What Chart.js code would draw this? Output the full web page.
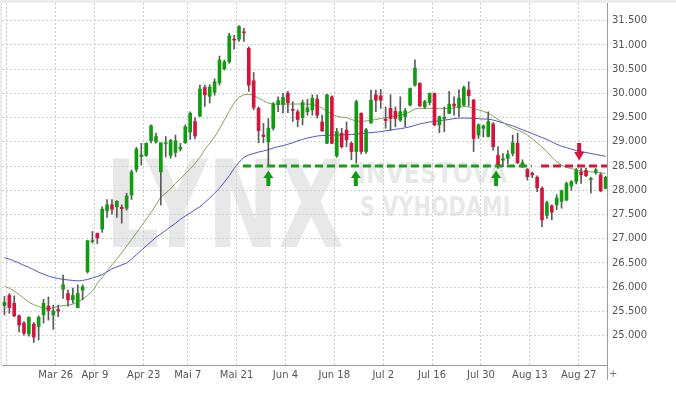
<!DOCTYPE html>
<html><head><meta charset="utf-8">
<script src="https://cdn.jsdelivr.net/npm/chart.js@4/dist/chart.umd.min.js"></script>
<style>html,body{margin:0;padding:0;background:#fff}#wrap{position:relative;width:676px;height:405px}</style>
</head><body><div id="wrap"><canvas id="c" width="676" height="405"></canvas></div>
<script>
// ---- categories (trading days) ----
const days = ['Mar 9','Mar 12','Mar 13','Mar 14','Mar 15','Mar 16','Mar 19','Mar 20','Mar 21','Mar 22','Mar 23','Mar 26','Mar 27','Mar 28','Mar 29',
'Apr 3','Apr 4','Apr 5','Apr 6','Apr 9','Apr 10','Apr 11','Apr 12','Apr 13','Apr 16','Apr 17','Apr 18','Apr 19','Apr 20','Apr 23','Apr 24','Apr 25','Apr 26','Apr 27','Apr 30',
'Mai 2','Mai 3','Mai 4','Mai 7','Mai 8','Mai 9','Mai 10','Mai 11','Mai 14','Mai 15','Mai 16','Mai 17','Mai 18','Mai 21','Mai 22','Mai 23','Mai 24','Mai 25','Mai 28','Mai 29','Mai 30','Mai 31',
'Jun 1','Jun 4','Jun 5','Jun 6','Jun 7','Jun 8','Jun 11','Jun 12','Jun 13','Jun 14','Jun 15','Jun 18','Jun 19','Jun 20','Jun 21','Jun 22','Jun 25','Jun 26','Jun 27','Jun 28','Jun 29',
'Jul 2','Jul 3','Jul 4','Jul 5','Jul 6','Jul 9','Jul 10','Jul 11','Jul 12','Jul 13','Jul 16','Jul 17','Jul 18','Jul 19','Jul 20','Jul 23','Jul 24','Jul 25','Jul 26','Jul 27','Jul 30','Jul 31',
'Aug 1','Aug 2','Aug 3','Aug 6','Aug 7','Aug 8','Aug 9','Aug 10','Aug 13','Aug 14','Aug 15','Aug 16','Aug 17','Aug 20','Aug 21','Aug 22','Aug 23','Aug 24','Aug 27','Aug 28','Aug 29','Aug 30','Aug 31',
'Sep 3'];

// ---- OHLC series ----
const open = [25.62,25.83,25.67,25.41,25.26,25.04,25.24,25.19,25.43,25.61,25.43,25.54,25.96,25.87,25.74,25.58,25.94,26.32,26.94,27.11,
27.20,27.58,27.70,27.66,27.65,27.63,27.90,28.43,28.70,28.72,29.02,29.00,28.38,28.96,28.72,28.78,28.85,28.98,29.20,29.42,
29.53,30.12,29.94,30.02,30.22,30.51,30.65,31.11,31.12,31.27,30.93,30.26,29.69,29.14,29.00,29.28,29.77,29.77,30.00,29.67,
29.62,29.50,29.62,29.66,29.88,29.41,28.97,29.93,28.71,29.18,29.24,28.97,28.80,29.59,28.80,29.39,29.97,29.95,29.47,29.69,
29.63,29.45,29.52,29.76,30.17,30.21,29.72,29.81,30.00,29.35,29.48,29.59,29.78,29.71,29.76,30.07,29.86,29.14,29.28,29.11,
29.37,28.72,28.62,28.66,28.76,28.97,28.51,28.43,28.35,28.27,28.04,27.48,27.68,27.70,27.77,27.80,28.09,28.18,28.38,28.41,
28.22,28.37,28.32,28.04];
const high = [25.81,25.87,25.82,25.43,25.29,25.39,25.27,25.41,25.75,25.80,25.63,25.63,26.25,25.94,25.98,26.05,26.05,26.97,27.15,27.12,
27.66,27.81,27.81,27.79,27.70,27.94,28.42,28.89,28.97,28.98,29.35,29.18,28.98,29.11,29.05,29.14,28.97,29.35,29.62,29.50,
30.17,30.17,30.18,30.30,30.77,30.69,31.24,31.20,31.40,31.34,30.96,30.43,29.72,29.38,29.48,29.81,29.93,30.00,30.04,29.83,
29.66,29.86,29.88,29.97,29.97,29.55,29.98,29.95,29.28,29.28,29.41,29.00,29.86,29.60,29.28,30.07,30.07,30.08,29.72,29.97,
29.72,29.93,29.69,30.11,30.69,30.22,29.86,30.01,30.01,29.53,29.72,30.04,29.93,30.08,30.15,30.24,29.88,29.37,29.35,29.62,
29.40,28.90,28.76,28.82,29.14,29.18,28.63,28.45,28.38,28.30,28.07,27.78,27.70,27.91,28.01,28.17,28.20,28.45,28.46,28.46,
28.27,28.45,28.36,28.29];
const low = [25.43,25.46,25.39,25.08,25.01,24.99,24.86,24.91,25.26,25.32,25.13,25.39,25.77,25.61,25.67,25.57,25.74,26.29,26.91,26.90,
27.13,27.44,27.51,27.44,27.32,27.59,27.81,28.38,28.52,28.70,28.98,28.97,27.70,28.69,28.66,28.69,28.81,28.97,29.05,29.06,
29.52,29.73,29.80,29.96,30.17,30.48,30.62,30.91,31.07,31.07,30.04,29.66,28.98,28.98,28.50,29.24,29.62,29.59,29.60,29.42,
29.31,29.35,29.55,29.55,29.49,29.21,28.96,28.96,28.68,28.87,28.90,28.63,28.56,28.75,28.76,29.38,29.62,29.69,29.28,29.24,
29.31,29.42,29.31,29.74,30.15,29.73,29.69,29.76,29.33,29.19,29.21,29.58,29.55,29.52,29.74,29.74,28.80,29.07,29.10,29.10,
28.83,28.45,28.49,28.55,28.71,28.55,28.47,28.21,28.26,27.97,27.25,27.42,27.39,27.60,27.63,27.78,28.00,28.13,28.14,28.28,
27.94,28.33,27.97,28.03];
const close = [25.69,25.58,25.41,25.22,25.05,25.38,24.97,25.38,25.67,25.52,25.51,25.51,26.05,25.74,25.83,25.87,26.01,26.96,26.96,27.02,
27.61,27.70,27.61,27.77,27.62,27.88,28.38,28.85,28.73,28.97,29.33,29.11,28.98,28.98,29.03,29.02,28.89,29.31,29.59,29.12,
30.09,29.97,30.13,30.24,30.69,30.65,31.19,31.10,31.38,31.25,30.17,29.71,29.23,29.11,29.28,29.78,29.85,29.92,29.81,29.65,
29.46,29.81,29.70,29.90,29.55,29.23,29.97,28.97,29.21,28.90,29.04,28.80,29.83,28.80,29.25,29.86,29.86,29.86,29.44,29.48,
29.48,29.62,29.64,30.10,30.52,29.74,29.83,30.00,29.35,29.52,29.51,29.78,29.74,29.90,30.12,29.95,29.07,29.35,29.33,29.42,
28.90,28.52,28.65,28.74,28.98,28.57,28.57,28.28,28.32,28.05,27.39,27.74,27.55,27.84,27.99,28.14,28.18,28.42,28.32,28.30,
28.24,28.42,27.99,28.27];

// ---- moving averages ----
const maFast = [26.02,25.98,25.92,25.85,25.77,25.69,25.64,25.60,25.57,25.55,25.58,25.61,25.62,25.63,25.65,25.70,25.75,25.83,25.92,26.08,
26.20,26.34,26.46,26.58,26.71,26.85,26.98,27.12,27.26,27.40,27.54,27.70,27.86,27.94,28.03,28.14,28.24,28.34,28.44,28.55,
28.68,28.84,28.97,29.10,29.27,29.45,29.63,29.80,29.92,29.97,29.98,29.96,29.90,29.85,29.80,29.78,29.78,29.78,29.78,29.78,
29.78,29.78,29.78,29.77,29.74,29.70,29.63,29.57,29.53,29.51,29.50,29.46,29.43,29.42,29.43,29.45,29.46,29.48,29.50,29.51,
29.53,29.55,29.57,29.62,29.68,29.69,29.69,29.69,29.69,29.69,29.69,29.69,29.70,29.71,29.73,29.72,29.69,29.66,29.63,29.59,
29.53,29.46,29.40,29.33,29.28,29.24,29.20,29.14,29.06,28.98,28.89,28.80,28.68,28.59,28.52,28.47,28.45,28.42,28.40,28.39,
28.38,28.37,28.36,28.35];
const maSlow = [26.61,26.58,26.54,26.50,26.45,26.41,26.36,26.31,26.27,26.23,26.20,26.18,26.16,26.15,26.14,26.13,26.14,26.16,26.19,26.22,
26.26,26.32,26.38,26.42,26.46,26.50,26.58,26.67,26.76,26.85,26.94,27.03,27.10,27.17,27.25,27.32,27.40,27.47,27.53,27.60,
27.66,27.75,27.84,27.94,28.04,28.17,28.30,28.45,28.58,28.68,28.73,28.76,28.79,28.81,28.84,28.87,28.90,28.92,28.95,28.98,
29.02,29.05,29.08,29.10,29.12,29.13,29.13,29.14,29.14,29.14,29.15,29.15,29.16,29.17,29.18,29.19,29.20,29.21,29.23,29.24,
29.26,29.27,29.29,29.31,29.34,29.37,29.39,29.41,29.42,29.44,29.45,29.46,29.48,29.49,29.49,29.49,29.48,29.48,29.47,29.47,
29.45,29.42,29.39,29.36,29.33,29.29,29.25,29.21,29.17,29.13,29.09,29.05,29.00,28.95,28.91,28.88,28.85,28.82,28.80,28.78,
28.76,28.74,28.72,28.70];

// ---- axis ticks ----
const yTicks = [25.0,25.5,26.0,26.5,27.0,27.5,28.0,28.5,29.0,29.5,30.0,30.5,31.0,31.5];
const gridDays = ['Mar 12','Mar 26','Apr 9','Apr 23','Mai 7','Mai 21','Jun 4','Jun 18','Jul 2','Jul 16','Jul 30','Aug 13','Aug 27'];
const gridLabels = ['','Mar 26','Apr 9','Apr 23','Mai 7','Mai 21','Jun 4','Jun 18','Jul 2','Jul 16','Jul 30','Aug 13','Aug 27'];

// ---- annotations ----
const supportLevel = 28.5;
const supportSpan = [48.8, 107.9];
const resistSpan = [109.8, 123.5];
const arrowsUp = [54.0, 71.9, 100.6];
const arrowsDown = [117.6];

const GREEN = '#119b11', RED = '#d4143c', WICK = '#5a5a5a';
const idx = days.map((d, i) => i);
const isUp = i => close[i] >= open[i];

const wickData = idx.map(i => ({x: i, y: [low[i], high[i]]}));
const bodyData = idx.map(i => ({x: i, y: [open[i], close[i]]}));

function fitText(ctx, text, font, x0, y0, x1, y1) {
  ctx.save();
  ctx.font = font;
  const m = ctx.measureText(text);
  const w = m.actualBoundingBoxLeft + m.actualBoundingBoxRight;
  const h = m.actualBoundingBoxAscent + m.actualBoundingBoxDescent;
  ctx.translate(x0, y0);
  ctx.scale((x1 - x0) / w, (y1 - y0) / h);
  ctx.textAlign = 'left'; ctx.textBaseline = 'alphabetic';
  ctx.fillText(text, m.actualBoundingBoxLeft, m.actualBoundingBoxAscent);
  ctx.restore();
}

const decor = {
  id: 'decor',
  beforeDraw(chart) {
    const ctx = chart.ctx, a = chart.chartArea;
    ctx.save();
    ctx.fillStyle = '#ececec';
    ctx.fillRect(0, 0, chart.width, a.top);
    ctx.fillRect(0, 0, a.left, a.bottom);
    ctx.fillStyle = '#e8e8e8';
    fitText(ctx, 'LYNX', "bold 100px 'DejaVu Sans'", 113, 158, 343, 247);
    fitText(ctx, 'INVESTOVÁ', "bold 40px 'DejaVu Sans'", 359, 157, 507, 184);
    fitText(ctx, 'S VÝHODAMI', "bold 40px 'DejaVu Sans'", 361, 190, 509, 217);
    ctx.restore();
  },
  afterDatasetsDraw(chart) {
    const ctx = chart.ctx, xs = chart.scales.x, ys = chart.scales.y;
    const yl = ys.getPixelForValue(supportLevel);
    ctx.save();
    ctx.fillStyle = GREEN;
    arrowsUp.forEach(v => {
      const x = xs.getPixelForValue(v);
      ctx.beginPath();
      ctx.moveTo(x, yl + 4.5);
      ctx.lineTo(x + 5, yl + 12);
      ctx.lineTo(x + 2, yl + 12);
      ctx.lineTo(x + 2, yl + 20);
      ctx.lineTo(x - 2, yl + 20);
      ctx.lineTo(x - 2, yl + 12);
      ctx.lineTo(x - 5, yl + 12);
      ctx.closePath();
      ctx.fill();
    });
    ctx.fillStyle = RED;
    arrowsDown.forEach(v => {
      const x = xs.getPixelForValue(v);
      ctx.beginPath();
      ctx.moveTo(x, yl - 5.5);
      ctx.lineTo(x + 5, yl - 14);
      ctx.lineTo(x + 2, yl - 14);
      ctx.lineTo(x + 2, yl - 23);
      ctx.lineTo(x - 2, yl - 23);
      ctx.lineTo(x - 2, yl - 14);
      ctx.lineTo(x - 5, yl - 14);
      ctx.closePath();
      ctx.fill();
    });
    ctx.restore();
  },
  afterDraw(chart) {
    const ctx = chart.ctx, a = chart.chartArea;
    ctx.save();
    ctx.strokeStyle = '#9c9c9c';
    ctx.lineWidth = 1;
    ctx.beginPath();
    ctx.moveTo(a.left, Math.round(a.bottom) + 0.5);
    ctx.lineTo(a.right, Math.round(a.bottom) + 0.5);
    ctx.moveTo(Math.round(a.right) - 0.5, a.top);
    ctx.lineTo(Math.round(a.right) - 0.5, a.bottom + 15);
    ctx.stroke();
    ctx.fillStyle = '#777';
    ctx.font = "10px 'DejaVu Sans'";
    ctx.textAlign = 'left'; ctx.textBaseline = 'middle';
    ctx.fillText('+', a.right + 1, a.bottom + 9);
    ctx.restore();
  }
};

Chart.defaults.font.family = "'DejaVu Sans', Verdana, sans-serif";
Chart.defaults.font.size = 10;
Chart.defaults.color = '#555';

new Chart(document.getElementById('c'), {
  type: 'bar',
  data: {
    datasets: [
      {type: 'line', data: supportSpan.map(v => ({x: v, y: supportLevel})), borderColor: '#1e9a1e', borderWidth: 3, borderDash: [8, 4], pointRadius: 0, order: 0},
      {type: 'line', data: resistSpan.map(v => ({x: v, y: supportLevel})), borderColor: RED, borderWidth: 3, borderDash: [8, 4], pointRadius: 0, order: 0},
      {type: 'bar', data: bodyData, grouped: false, barThickness: 3, minBarLength: 1,
        backgroundColor: c => isUp(c.dataIndex) ? GREEN : RED, borderWidth: 0, order: 1},
      {type: 'bar', data: wickData, grouped: false, barThickness: 1,
        backgroundColor: WICK, borderWidth: 0, order: 2},
      {type: 'line', data: idx.map(i => ({x: i, y: maFast[i]})), borderColor: '#83a35c', borderWidth: 1, pointRadius: 0, tension: 0, order: 3},
      {type: 'line', data: idx.map(i => ({x: i, y: maSlow[i]})), borderColor: '#5252cc', borderWidth: 1, pointRadius: 0, tension: 0, order: 3}
    ]
  },
  options: {
    responsive: false,
    animation: false,
    devicePixelRatio: 1,
    layout: {padding: {left: 2, top: 3, right: 0, bottom: 0}},
    plugins: {legend: {display: false}, tooltip: {enabled: false}},
    scales: {
      x: {
        type: 'linear', min: -0.5, max: 123.5, offset: false,
        grid: {color: '#cfcfcf', lineWidth: 1, drawTicks: false, offset: false},
        border: {display: false, dash: [2, 2]},
        afterBuildTicks: s => { s.ticks = gridDays.map(d => ({value: days.indexOf(d) - 0.5})); },
        afterFit: s => { s.height = 40; s.paddingLeft = 0; s.paddingRight = 0; },
        ticks: {autoSkip: false, maxRotation: 0, padding: 4, callback: (v, i) => gridLabels[i]}
      },
      y: {
        type: 'linear', position: 'right', min: 24.395, max: 31.865,
        grid: {color: '#cfcfcf', lineWidth: 1, drawTicks: false},
        border: {display: false, dash: [2, 2]},
        afterBuildTicks: s => { s.ticks = yTicks.map(v => ({value: v})); },
        afterFit: s => { s.width = 68; s.paddingTop = 0; s.paddingBottom = 0; },
        ticks: {padding: 4, callback: v => v.toFixed(3)}
      }
    }
  },
  plugins: [decor]
});
</script></body></html>
